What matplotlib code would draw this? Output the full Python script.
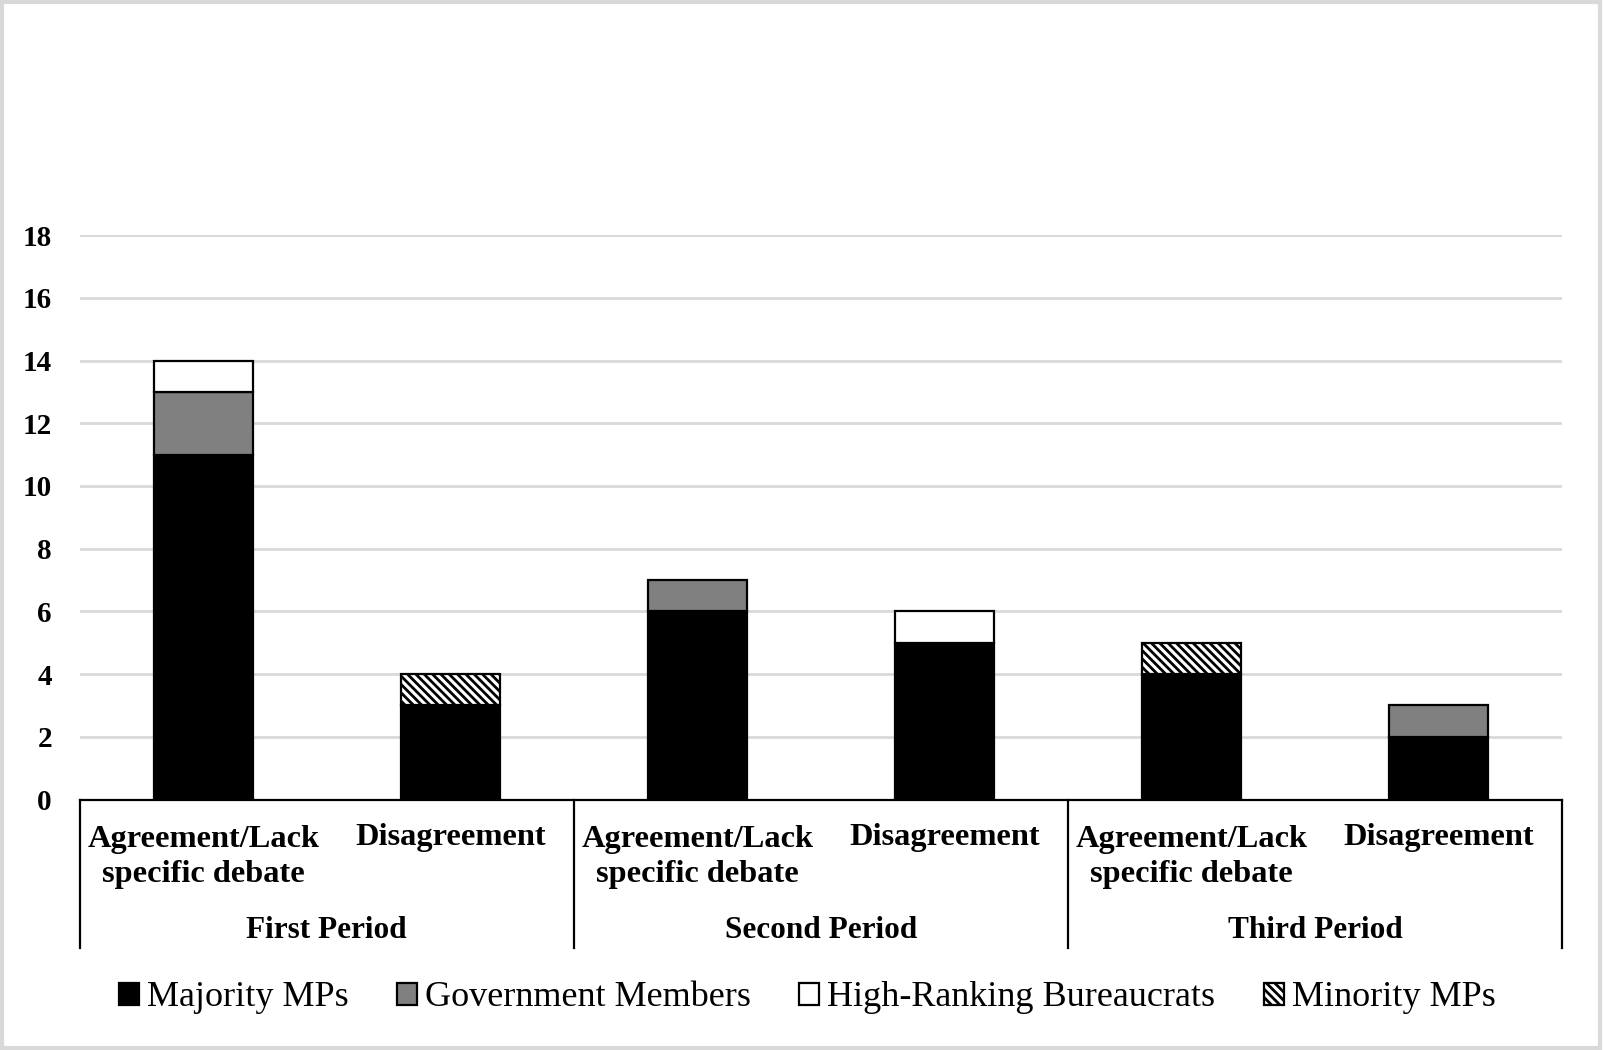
import matplotlib.pyplot as plt
from matplotlib.patches import Patch, Rectangle

categories = ["Agreement/Lack\nspecific debate", "Disagreement"] * 3
periods = ["First Period", "Second Period", "Third Period"]
majority = [11, 3, 6, 5, 4, 2]
government = [2, 0, 1, 0, 0, 1]
bureaucrats = [1, 0, 0, 1, 0, 0]
minority = [0, 1, 0, 0, 1, 0]
yticks = [0, 2, 4, 6, 8, 10, 12, 14, 16, 18]

plt.rcParams["font.family"] = ["Liberation Serif", "DejaVu Serif"]
plt.rcParams["hatch.linewidth"] = 2.0

W, H = 1603, 1050
fig = plt.figure(figsize=(W / 100, H / 100), dpi=100)
# axes box in pixels (from top-left)
x0, x1, y_top, y_bot = 79.7, 1562.0, 235.1, 799.5
ax = fig.add_axes([x0 / W, 1 - y_bot / H, (x1 - x0) / W, (y_bot - y_top) / H])


def ay(py):
    return (y_bot - py) / (y_bot - y_top)


series = [
    ("Majority MPs", majority, "black", None),
    ("Government Members", government, "#808080", None),
    ("High-Ranking Bureaucrats", bureaucrats, "white", None),
    ("Minority MPs", minority, "white", "\\\\\\\\"),
]
xs = list(range(len(categories)))
bottom = [0] * len(xs)
handles = []
for label, vals, color, hatch in series:
    lw = [1.6 if v > 0 else 0 for v in vals]
    ax.bar(xs, vals, width=0.4, bottom=bottom, color=color, edgecolor="black",
           linewidth=lw, hatch=hatch, zorder=3)
    bottom = [b + v for b, v in zip(bottom, vals)]
    handles.append(Patch(facecolor=color, edgecolor="black", linewidth=1.6,
                         hatch=hatch, label=label))

ax.set_xlim(-0.5, len(xs) - 0.5)
ax.set_ylim(0, 18)
ax.set_yticks(yticks)
ax.set_yticklabels([str(t) for t in yticks], fontsize=21, fontweight="bold")
ax.tick_params(axis="y", length=0, pad=20)
ax.set_xticks([])
ax.grid(axis="y", color="#d9d9d9", linewidth=2, zorder=0)
for s in ["left", "right", "top"]:
    ax.spines[s].set_visible(False)
ax.spines["bottom"].set_linewidth(1.6)
ax.spines["bottom"].set_zorder(4)

tr = ax.get_xaxis_transform()
for x, cat in zip(xs, categories):
    if "\n" in cat:
        ax.text(x, ay(857), cat, transform=tr, ha="center", va="center",
                multialignment="center", fontsize=23.3, fontweight="bold",
                linespacing=1.3)
    else:
        ax.text(x, ay(838), cat, transform=tr, ha="center", va="center",
                fontsize=23.3, fontweight="bold")
for i, p in enumerate(periods):
    ax.text(2 * i + 0.5, ay(930), p, transform=tr, ha="center", va="center",
            fontsize=22.5, fontweight="bold")
for sx in [-0.5, 1.5, 3.5, 5.5]:
    ax.plot([sx, sx], [0, ay(948)], transform=tr, color="black", linewidth=1.6,
            clip_on=False)

fig.legend(handles=handles, loc="center", bbox_to_anchor=(0.5035, 1 - 998 / H),
           ncol=4, frameon=False, fontsize=26, handlelength=0.55,
           handleheight=0.55, handletextpad=0.22, columnspacing=1.35)

fig.patches.append(Rectangle((0.001, 0.002), 0.997, 0.996, transform=fig.transFigure,
                             fill=False, edgecolor="#d9d9d9", linewidth=3))

fig.savefig("out.png", dpi=100)
